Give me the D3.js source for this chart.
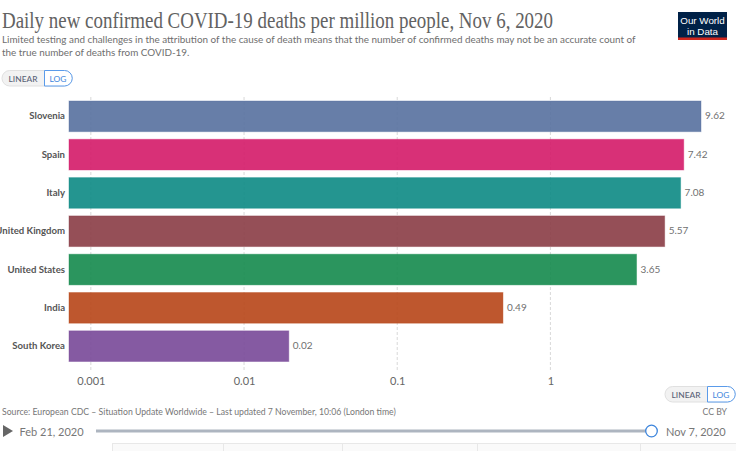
<!DOCTYPE html>
<html>
<head>
<meta charset="utf-8">
<script src="https://cdn.jsdelivr.net/npm/d3@7"></script>
<style>
  html, body { margin: 0; padding: 0; background: #fff; }
  svg { display: block; font-family: Lato, sans-serif; }
</style>
</head>
<body>
<div id="chart"></div>
<script>
// Chart data
const countries = ['Slovenia', 'Spain', 'Italy', 'United Kingdom', 'United States', 'India', 'South Korea'];
const deaths = [9.62, 7.42, 7.08, 5.57, 3.65, 0.49, 0.0196];
const barColors = ['#56709f', '#d41a68', '#0c8a84', '#8a3c45', '#148a4c', '#b74517', '#784898'];
const logTicks = [0.001, 0.01, 0.1, 1];
const tickLabels = ['0.001', '0.01', '0.1', '1'];
const tabEdges = [112, 223, 342, 477, 640];

const title = 'Daily new confirmed COVID-19 deaths per million people, Nov 6, 2020';
const subtitle = [
  'Limited testing and challenges in the attribution of the cause of death means that the number of confirmed deaths may not be an accurate count of',
  'the true number of deaths from COVID-19.'
];

const width = 736, height = 451;
const svg = d3.select('#chart').append('svg').attr('width', width).attr('height', height);

// scales: one decade is about 153px in the picture
const x = d3.scaleLog().domain([0.00072, 9.62]).range([69, 701]);
const y = d3.scaleBand().domain(countries).range([101, 361.5]).paddingInner(0.2);

// header
svg.append('text').attr('x', 2).attr('y', 28)
  .attr('font-family', '"Liberation Serif", serif').attr('font-size', 23)
  .attr('fill', '#626262').attr('textLength', 551).attr('lengthAdjust', 'spacingAndGlyphs')
  .text(title);

svg.selectAll('.subtitle').data(subtitle).enter().append('text')
  .attr('class', 'subtitle')
  .attr('x', 2).attr('y', (d, i) => 43 + i * 12.5)
  .attr('font-size', 9.9).attr('fill', '#6e6e6e')
  .text(d => d);

// logo
const logo = svg.append('g');
logo.append('rect').attr('x', 678).attr('y', 12).attr('width', 49).attr('height', 28).attr('fill', '#002147');
logo.append('rect').attr('x', 678).attr('y', 37.5).attr('width', 49).attr('height', 2.5).attr('fill', '#ce261e');
logo.selectAll('text').data(['Our World', 'in Data']).enter().append('text')
  .attr('x', 702.5).attr('y', (d, i) => 23.5 + i * 11)
  .attr('text-anchor', 'middle').attr('font-family', '"Liberation Sans", sans-serif')
  .attr('font-size', 9.8).attr('fill', '#fff').text(d => d);

// LINEAR / LOG toggle
function scaleToggle(left, top) {
  const g = svg.append('g').attr('transform', `translate(${left},${top})`);
  g.append('rect').attr('x', 0).attr('y', 0).attr('width', 70).attr('height', 15.5).attr('rx', 7.7)
    .attr('fill', '#f2f2f2').attr('stroke', '#e0e0e0');
  g.append('path').attr('d', 'M42.5,0 H62.5 A7.7,7.7 0 0 1 62.5,15.5 H42.5 Z')
    .attr('fill', '#fff').attr('stroke', '#5a9bea').attr('stroke-width', 1);
  g.append('text').attr('x', 21).attr('y', 11).attr('text-anchor', 'middle')
    .attr('font-size', 8.4).attr('font-weight', 500).attr('fill', '#5b6478').text('LINEAR');
  g.append('text').attr('x', 56).attr('y', 11).attr('text-anchor', 'middle')
    .attr('font-size', 8.4).attr('fill', '#3d85dc').text('LOG');
}
scaleToggle(2, 70.5);
scaleToggle(665, 386.5);

// grid lines
svg.append('g').selectAll('line').data(logTicks).enter().append('line')
  .attr('x1', d => x(d)).attr('x2', d => x(d))
  .attr('y1', 97).attr('y2', 370)
  .attr('stroke', '#d8d8d8').attr('stroke-dasharray', '3,2');

// bars
svg.append('g').selectAll('rect').data(countries).enter().append('rect')
  .attr('x', x.range()[0])
  .attr('y', d => y(d))
  .attr('width', (d, i) => x(deaths[i]) - x.range()[0])
  .attr('height', y.bandwidth())
  .attr('fill', (d, i) => barColors[i])
  .attr('fill-opacity', 0.9)
  .attr('stroke', (d, i) => barColors[i])
  .attr('stroke-opacity', 0.4);

// country labels
svg.append('g').selectAll('text').data(countries).enter().append('text')
  .attr('x', 65)
  .attr('y', d => y(d) + y.bandwidth() / 2 + 3)
  .attr('text-anchor', 'end').attr('font-size', 9.6).attr('font-weight', 700)
  .attr('fill', '#555').text(d => d);

// value labels
svg.append('g').selectAll('text').data(deaths).enter().append('text')
  .attr('x', d => x(d) + 4)
  .attr('y', (d, i) => y(countries[i]) + y.bandwidth() / 2 + 3)
  .attr('font-size', 10).attr('fill', '#707070')
  .text(d => d3.format('.2f')(d));

// bottom axis
const axis = svg.append('g').attr('transform', 'translate(0,370)')
  .call(d3.axisBottom(x).tickValues(logTicks).tickSize(0).tickPadding(7)
    .tickFormat((d, i) => tickLabels[i]));
axis.select('.domain').remove();
axis.selectAll('text').attr('font-family', 'Lato, sans-serif').attr('font-size', 11).attr('fill', '#666');

// footer
svg.append('text').attr('x', 2).attr('y', 415).attr('font-size', 8.7).attr('fill', '#777')
  .text('Source: European CDC – Situation Update Worldwide – Last updated 7 November, 10:06 (London time)');
svg.append('text').attr('x', 727).attr('y', 415).attr('text-anchor', 'end').attr('font-size', 8.7).attr('fill', '#777')
  .text('CC BY');

// timeline
svg.append('path').attr('d', 'M3,425 L13,431 L3,437 Z').attr('fill', '#666');
svg.append('text').attr('x', 19.5).attr('y', 435.5).attr('font-size', 11).attr('fill', '#777').text('Feb 21, 2020');
svg.append('text').attr('x', 666).attr('y', 435.5).attr('font-size', 11).attr('fill', '#777').text('Nov 7, 2020');
svg.append('line').attr('x1', 96).attr('x2', 651).attr('y1', 431).attr('y2', 431)
  .attr('stroke', '#adb5c0').attr('stroke-width', 3);
svg.append('circle').attr('cx', 651.5).attr('cy', 431).attr('r', 5.8)
  .attr('fill', '#fff').attr('stroke', '#3d85dc').attr('stroke-width', 1.3);

// tabs peeking in at the bottom edge
svg.append('rect').attr('x', tabEdges[0]).attr('y', 444).attr('width', width - tabEdges[0]).attr('height', 7).attr('fill', '#fafafa');
svg.append('line').attr('x1', tabEdges[0]).attr('x2', width).attr('y1', 443.5).attr('y2', 443.5).attr('stroke', '#e8e8e8');
svg.append('g').selectAll('line').data(tabEdges).enter().append('line')
  .attr('x1', d => d + 0.5).attr('x2', d => d + 0.5).attr('y1', 443.5).attr('y2', 451).attr('stroke', '#e8e8e8');
</script>
</body>
</html>
